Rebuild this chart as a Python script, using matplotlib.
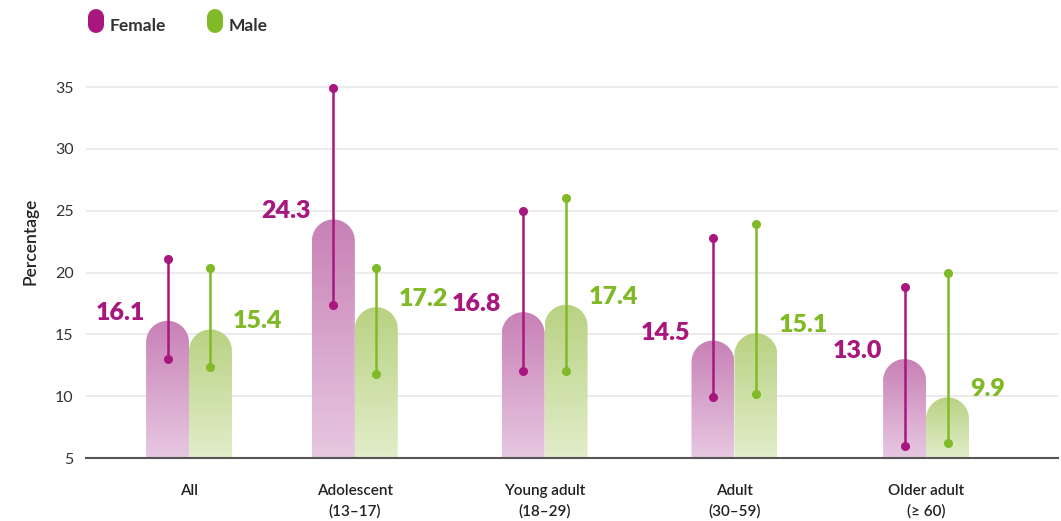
import numpy as np
import matplotlib
matplotlib.use("Agg")
import matplotlib.pyplot as plt
from matplotlib.path import Path
from matplotlib.patches import PathPatch
from matplotlib.lines import Line2D
from matplotlib.colors import LinearSegmentedColormap

plt.rcParams["font.family"] = ["Lato", "DejaVu Sans"]

# data
groups = ["All", "Adolescent\n(13–17)", "Young adult\n(18–29)", "Adult\n(30–59)", "Older adult\n(≥ 60)"]
female = [16.1, 24.3, 16.8, 14.5, 13.0]
male = [15.4, 17.2, 17.4, 15.1, 9.9]
female_lo = [13.0, 17.4, 12.0, 9.9, 6.0]
female_hi = [21.1, 34.9, 25.0, 22.8, 18.8]
male_lo = [12.4, 11.8, 12.0, 10.2, 6.2]
male_hi = [20.4, 20.4, 26.0, 23.9, 20.0]

# layout
group_x = [0, 0.9, 1.93, 2.96, 4.0]
bar_w = 0.233
y_base = 5

f_dark, m_dark = "#A8177E", "#80BA27"
f_grad = ("#C881B6", "#E7C8E1")
m_grad = ("#B8D282", "#E2EDCA")

fig = plt.figure(figsize=(10.61, 5.21), dpi=100)
ax = fig.add_axes([86 / 1061, 63 / 521, 972 / 1061, 398 / 521])
ax.set_xlim(-0.559, 4.716)
ax.set_ylim(5, 37.2)

for s in ["top", "right", "left"]:
    ax.spines[s].set_visible(False)
ax.spines["bottom"].set_color("#555555")
ax.spines["bottom"].set_linewidth(1.5)
ax.set_yticks([5, 10, 15, 20, 25, 30, 35])
ax.yaxis.grid(True, color="#e8e8e8", lw=1.2)
ax.set_axisbelow(True)
ax.tick_params(axis="y", length=0, pad=9, labelsize=11.5, labelcolor="#333333")
ax.tick_params(axis="x", length=0, pad=19, labelsize=11, labelcolor="#222222")
ax.set_xticks(group_x)
ax.set_xticklabels(groups, linespacing=1.5, fontweight="semibold")

# radius of rounded top in y units so it looks circular
p0 = ax.transData.transform((0, 0))
p1 = ax.transData.transform((1, 1))
px_per_x = p1[0] - p0[0]
px_per_y = p1[1] - p0[1]
ry = (bar_w / 2) * px_per_x / px_per_y


def rounded_bar(x0, top, colors):
    rx = bar_w / 2
    t = np.linspace(np.pi, 0, 40)
    arc_x = x0 + rx + rx * np.cos(t)
    arc_y = top - ry + ry * np.sin(t)
    xs = np.concatenate([[x0], arc_x, [x0 + bar_w, x0]])
    ys = np.concatenate([[y_base], arc_y, [y_base, y_base]])
    verts = np.column_stack([xs, ys])
    codes = [Path.MOVETO] + [Path.LINETO] * (len(verts) - 2) + [Path.CLOSEPOLY]
    patch = PathPatch(Path(verts, codes), facecolor="none", edgecolor="none")
    ax.add_patch(patch)
    cmap = LinearSegmentedColormap.from_list("g", [colors[1], colors[0]])
    grad = np.linspace(0, 1, 256).reshape(-1, 1)
    im = ax.imshow(grad, cmap=cmap, origin="lower", aspect="auto",
                   extent=[x0, x0 + bar_w, y_base, top], zorder=2)
    im.set_clip_path(patch)


for i, gx in enumerate(group_x):
    rounded_bar(gx - bar_w, female[i], f_grad)
    rounded_bar(gx, male[i], m_grad)
    fx, mx = gx - bar_w / 2, gx + bar_w / 2
    ax.plot([fx, fx], [female_lo[i], female_hi[i]], color=f_dark, lw=1.8,
            marker="o", ms=5.5, zorder=4)
    ax.plot([mx, mx], [male_lo[i], male_hi[i]], color=m_dark, lw=1.8,
            marker="o", ms=5.5, zorder=4)
    ax.annotate(f"{female[i]:.1f}", (gx - bar_w, female[i]), xytext=(-1, 8),
                textcoords="offset pixels", ha="right", va="center",
                fontsize=18, fontweight="heavy", color=f_dark, zorder=5)
    ax.annotate(f"{male[i]:.1f}", (gx + bar_w, male[i]), xytext=(1, 8),
                textcoords="offset pixels", ha="left", va="center",
                fontsize=18, fontweight="heavy", color=m_dark, zorder=5)

ax.set_xlim(-0.559, 4.716)
ax.set_ylim(5, 37.2)

fig.text(30 / 1061, 1 - 241 / 521, "Percentage", rotation=90, ha="center",
         va="center", fontsize=12.5, fontweight="semibold", color="#222222")

# legend: pill markers drawn as thick round-capped lines
cap_pt = 16 * 72 / 100
for px, label, col in [(88, "Female", f_dark), (207, "Male", m_dark)]:
    cx = (px + 8) / 1061
    fig.add_artist(Line2D([cx, cx], [1 - 17 / 521, 1 - 25 / 521],
                          transform=fig.transFigure, color=col, lw=cap_pt,
                          solid_capstyle="round"))
    fig.text((px + 22) / 1061, 1 - 26 / 521, label, ha="left", va="center",
             fontsize=12.5, fontweight="bold", color="#333333")

fig.savefig("out.png", dpi=100)
